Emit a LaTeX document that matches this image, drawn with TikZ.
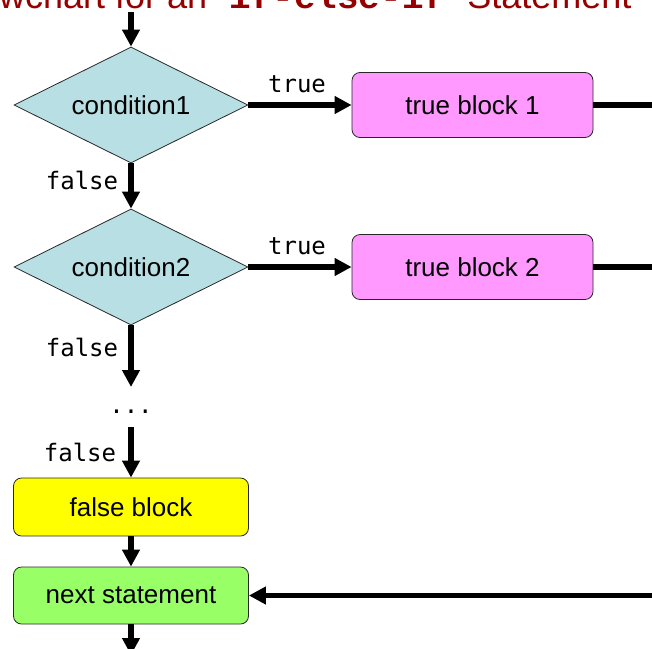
\documentclass[tikz,border=0pt]{standalone}
\usepackage{fontspec}
\setmainfont{Liberation Sans}
\newfontfamily\labelmono{DejaVu Sans Mono}
\newfontfamily\titlemono{Liberation Mono}
\usetikzlibrary{shapes.geometric,arrows.meta}
\definecolor{condfill}{RGB}{184,224,228}
\definecolor{truefill}{RGB}{255,153,255}
\definecolor{falsefill}{RGB}{255,255,0}
\definecolor{nextfill}{RGB}{153,255,102}
\definecolor{titlered}{RGB}{150,0,0}
\definecolor{edgegray}{RGB}{40,40,40}
\begin{document}
\begin{tikzpicture}[x=1pt,y=-1pt,
  cond/.style={diamond, aspect=2, draw=edgegray, line width=0.8pt, fill=condfill,
    minimum width=234pt, minimum height=116pt, inner sep=0pt,
    font=\fontsize{26}{30}\selectfont},
  blockbox/.style={rectangle, rounded corners=8pt, draw=edgegray, line width=0.8pt,
    inner sep=0pt, font=\fontsize{26}{30}\selectfont},
  flow/.style={line width=5.5pt, -{Triangle[width=17pt,length=17pt]}},
  plainflow/.style={line width=5.5pt},
  lbl/.style={font=\labelmono\fontsize{24}{28}\selectfont, inner sep=0pt}
]
\useasboundingbox (0,0) rectangle (652,648);
\clip (0,0) rectangle (652,648);

% title (cut off at the top, as in the picture)
\node[anchor=base west, inner sep=0pt, text=titlered, font=\fontsize{36}{40}\selectfont]
  (title) at (-51,8) {Flowchart for an "{\titlemono\bfseries if-else-if}" Statement};

% nodes
\node[cond] (c1) at (131,105) {condition1};
\node[cond] (c2) at (131,267) {condition2};
\node[blockbox, fill=truefill, minimum width=241pt, minimum height=65pt] (t1) at (472.5,105) {true block 1};
\node[blockbox, fill=truefill, minimum width=241pt, minimum height=65pt] (t2) at (472.5,267) {true block 2};
\node[blockbox, fill=falsefill, minimum width=235pt, minimum height=58pt] (fb) at (131,507) {false block};
\node[blockbox, fill=nextfill, minimum width=235pt, minimum height=57pt] (ns) at (131,595.5) {next statement};
\node[lbl, anchor=base] (dd) at (131,413) {...};

% free ends
\coordinate (topin) at (131,12);
\coordinate (r1) at (662,105);
\coordinate (r2) at (662,267);
\coordinate (rn) at (662,595.5);
\coordinate (a3end) at (131,387);
\coordinate (a4start) at (131,427);
\coordinate (bot) at (131,655);

% labels
\node[lbl] (lt1) at (297,84) {true};
\node[lbl] (lt2) at (297,246) {true};
\node[lbl] (lf1) at (82,180) {false};
\node[lbl] (lf2) at (82,347) {false};
\node[lbl] (lf3) at (80,452) {false};

% connectors
\draw[flow] (topin) -- (c1.north);
\draw[flow] (c1.east) -- (t1.west);
\draw[flow] (c1.south) -- (c2.north);
\draw[flow] (c2.east) -- (t2.west);
\draw[plainflow] (t1.east) -- (r1);
\draw[plainflow] (t2.east) -- (r2);
\draw[flow] (c2.south) -- (a3end);
\draw[flow] (a4start) -- (fb.north);
\draw[flow] (fb.south) -- (ns.north);
\draw[flow] (rn) -- (ns.east);
\draw[flow] (ns.south) -- (bot);
\end{tikzpicture}
\end{document}
